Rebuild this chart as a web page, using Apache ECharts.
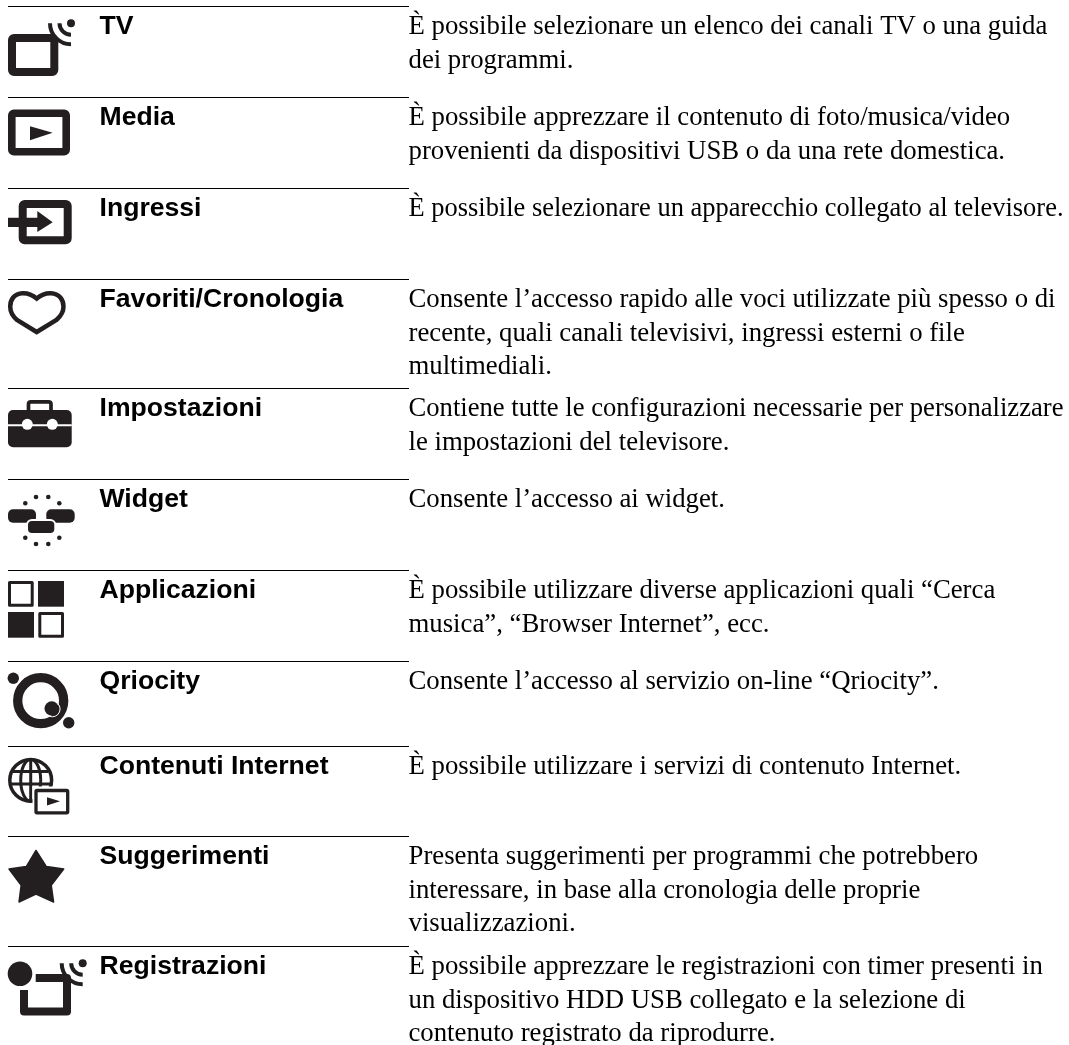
<!DOCTYPE html>
<html><head><meta charset="utf-8">
<style>html,body{margin:0;padding:0;background:#fff;overflow:hidden}#c{width:1069px;height:1045px}</style>
<script src="https://cdn.jsdelivr.net/npm/echarts@6/dist/echarts.min.js"></script>
</head><body><div id="c"></div>
<script>
var titles = ['TV','Media','Ingressi','Favoriti/Cronologia','Impostazioni','Widget','Applicazioni','Qriocity','Contenuti Internet','Suggerimenti','Registrazioni'];
var descriptions = [
 ['È possibile selezionare un elenco dei canali TV o una guida','dei programmi.'],
 ['È possibile apprezzare il contenuto di foto/musica/video','provenienti da dispositivi USB o da una rete domestica.'],
 ['È possibile selezionare un apparecchio collegato al televisore.'],
 ['Consente l’accesso rapido alle voci utilizzate più spesso o di','recente, quali canali televisivi, ingressi esterni o file','multimediali.'],
 ['Contiene tutte le configurazioni necessarie per personalizzare','le impostazioni del televisore.'],
 ['Consente l’accesso ai widget.'],
 ['È possibile utilizzare diverse applicazioni quali “Cerca','musica”, “Browser Internet”, ecc.'],
 ['Consente l’accesso al servizio on-line “Qriocity”.'],
 ['È possibile utilizzare i servizi di contenuto Internet.'],
 ['Presenta suggerimenti per programmi che potrebbero','interessare, in base alla cronologia delle proprie','visualizzazioni.'],
 ['È possibile apprezzare le registrazioni con timer presenti in','un dispositivo HDD USB collegato e la selezione di','contenuto registrato da riprodurre.']
];
var rowTops = [6,97,188,279,388,479,570,661,746,836,946];

var INK = '#231f20';
function R(x,y,w,h,r){return {type:'rect',shape:{x:x,y:y,width:w,height:h,r:r||0},style:{fill:INK}};}
function RS(x,y,w,h,lw,r){return {type:'rect',shape:{x:x,y:y,width:w,height:h,r:r||0},style:{fill:'none',stroke:INK,lineWidth:lw,lineJoin:'round'}};}
function C(x,y,r,fill){return {type:'circle',shape:{cx:x,cy:y,r:r},style:{fill:fill||INK}};}
function P(pts){return {type:'polygon',shape:{points:pts},style:{fill:INK}};}
function S(d,lw,join){return {type:'path',shape:{pathData:d},style:{fill:'none',stroke:INK,lineWidth:lw,lineJoin:join||'miter'}};}
function waves(x,y){
  function a(r){return 'M'+(x-r)+' '+y+'A'+r+' '+r+' 0 0 0 '+x+' '+(y+r);}
  return [C(x,y,4),S(a(21),4),S(a(11.5),4)];
}
var icons = [
 waves(63,17.3).concat([RS(4,32,42.3,34,8,2)]),
 [RS(3.8,16.3,54.4,38.4,7.6,2),P([[22,29.2],[44.7,35.8],[22,43.2]])],
 [RS(14.7,16,45,36.3,8,2),P([[0,29.7],[29.3,29.7],[29.3,23],[44.7,34.3],[29.3,44],[29.3,39],[0,39]])],
 [S('M28.7 19.5C24 15.5 19 14 14.5 14.2C6 14.5 2.2 21 2.2 27.5C2.2 33 5 37.5 9 41L28.7 53L48.4 41C52.4 37.5 55.5 33 55.5 27.5C55.5 21 51.4 14.5 42.9 14.2C38.4 14 33.4 15.5 28.7 19.5Z',4.5)],
 [S('M20.5 23V16Q20.5 13.8 23 13.8H40.5Q43 13.8 43 16V23',3.7),R(0,22,63.7,37.3,5),
  {type:'rect',shape:{x:0,y:36.3,width:63.7,height:2},style:{fill:'#fff'}},C(19.3,36.3,5.5,'#fff'),C(44.3,36.3,5.5,'#fff')],
 [R(0,30.3,28,13.4,5),R(38.3,30.3,28.4,13.4,5),
  {type:'rect',shape:{x:19,y:41,width:28.3,height:14,r:5},style:{fill:INK,stroke:'#fff',lineWidth:2}},
  C(28,18,2.3),C(40.3,18,2.3),C(17.3,24.3,2.3),C(51.3,24.3,2.3),C(17.3,58.7,2.3),C(51.3,58.7,2.3),C(28,65,2.3),C(40.3,65,2.3)],
 [RS(1.5,12.5,22.7,22.7,3),R(30,11,26,25.7),R(0,42,26,25.7),RS(31.8,43.5,22.7,22.7,3)],
 [{type:'circle',shape:{cx:32.7,cy:39.7,r:23},style:{fill:'none',stroke:INK,lineWidth:9.3}},C(5.3,17.3,5.7),C(60.7,61.7,5.7),
  {type:'circle',shape:{cx:44.3,cy:48,r:7.8},style:{fill:'none',stroke:'#fff',lineWidth:1}},C(43.7,47.5,7.2)],
 [{type:'circle',shape:{cx:22.7,cy:34.3,r:20.9},style:{fill:'none',stroke:INK,lineWidth:3.5}},
  {type:'ellipse',shape:{cx:22.7,cy:34.3,rx:10,ry:20.9},style:{fill:'none',stroke:INK,lineWidth:3}},
  S('M22.7 13.4V55.2',3),S('M5 25.5H40.4',3),S('M1.8 38H43.6',3),
  {type:'rect',shape:{x:24.5,y:40.5,width:38,height:29},style:{fill:'#fff'}},
  RS(28,44.5,31.7,22.3,3.3,1),P([[39,51.2],[52,55.2],[39,59.5]])],
 [{type:'polygon',shape:{points:[[28,14.5],[38.4,30.6],[55.7,33],[43.2,49.2],[45.6,66],[28,58],[11,66],[13.2,49.2],[1,33],[18.3,30.6]]},style:{fill:INK,stroke:INK,lineWidth:1.5,lineJoin:'round'}}],
 [C(12,27.7,12.3),S('M27.7 32H59V65.5H16V44',8,'round')].concat(waves(74.7,17.3))
];

var BODY_FONT = '26.75px "Liberation Serif"', COLUMN_WIDTH = 655;
var measure = document.createElement('canvas').getContext('2d');
measure.font = BODY_FONT;
var rowIndex = titles.map(function(t,i){return [i];});
var chart = echarts.init(document.getElementById('c'),null,{renderer:'canvas'});
chart.setOption({
  animation:false,
  backgroundColor:'#fff',
  grid:{left:0,right:0,top:0,bottom:0},
  xAxis:{type:'value',min:0,max:1069,show:false},
  yAxis:{type:'value',min:0,max:1045,inverse:true,show:false},
  series:[{
    type:'custom',coordinateSystem:'cartesian2d',silent:true,clip:false,
    data:rowIndex,encode:{x:[],y:[]},
    renderItem:function(params,api){
      var i=api.value(0), top=rowTops[i];
      var p0=api.coord([8,top]), p1=api.coord([409,top]);
      var ch=[{type:'rect',shape:{x:p0[0],y:p0[1],width:p1[0]-p0[0],height:1},style:{fill:'#000'}}];
      ch.push({type:'group',x:p0[0],y:p0[1],children:icons[i]});
      var t=api.coord([99.5,top+34.4]);
      ch.push({type:'text',x:t[0],y:t[1],style:{text:titles[i],fontFamily:'Liberation Sans',fontWeight:'bold',fontSize:26.6,fill:'#000',verticalAlign:'bottom'}});
      descriptions[i].forEach(function(line,k){
        var d=api.coord([408.5,top+34.5+k*33.7]);
        var w=measure.measureText(line).width;
        ch.push({type:'text',x:d[0],y:d[1],scaleX:Math.min(1,COLUMN_WIDTH/w),style:{text:line,fontFamily:'Liberation Serif',fontSize:26.75,fill:'#000',verticalAlign:'bottom'}});
      });
      return {type:'group',children:ch};
    }
  }]
});
</script></body></html>
